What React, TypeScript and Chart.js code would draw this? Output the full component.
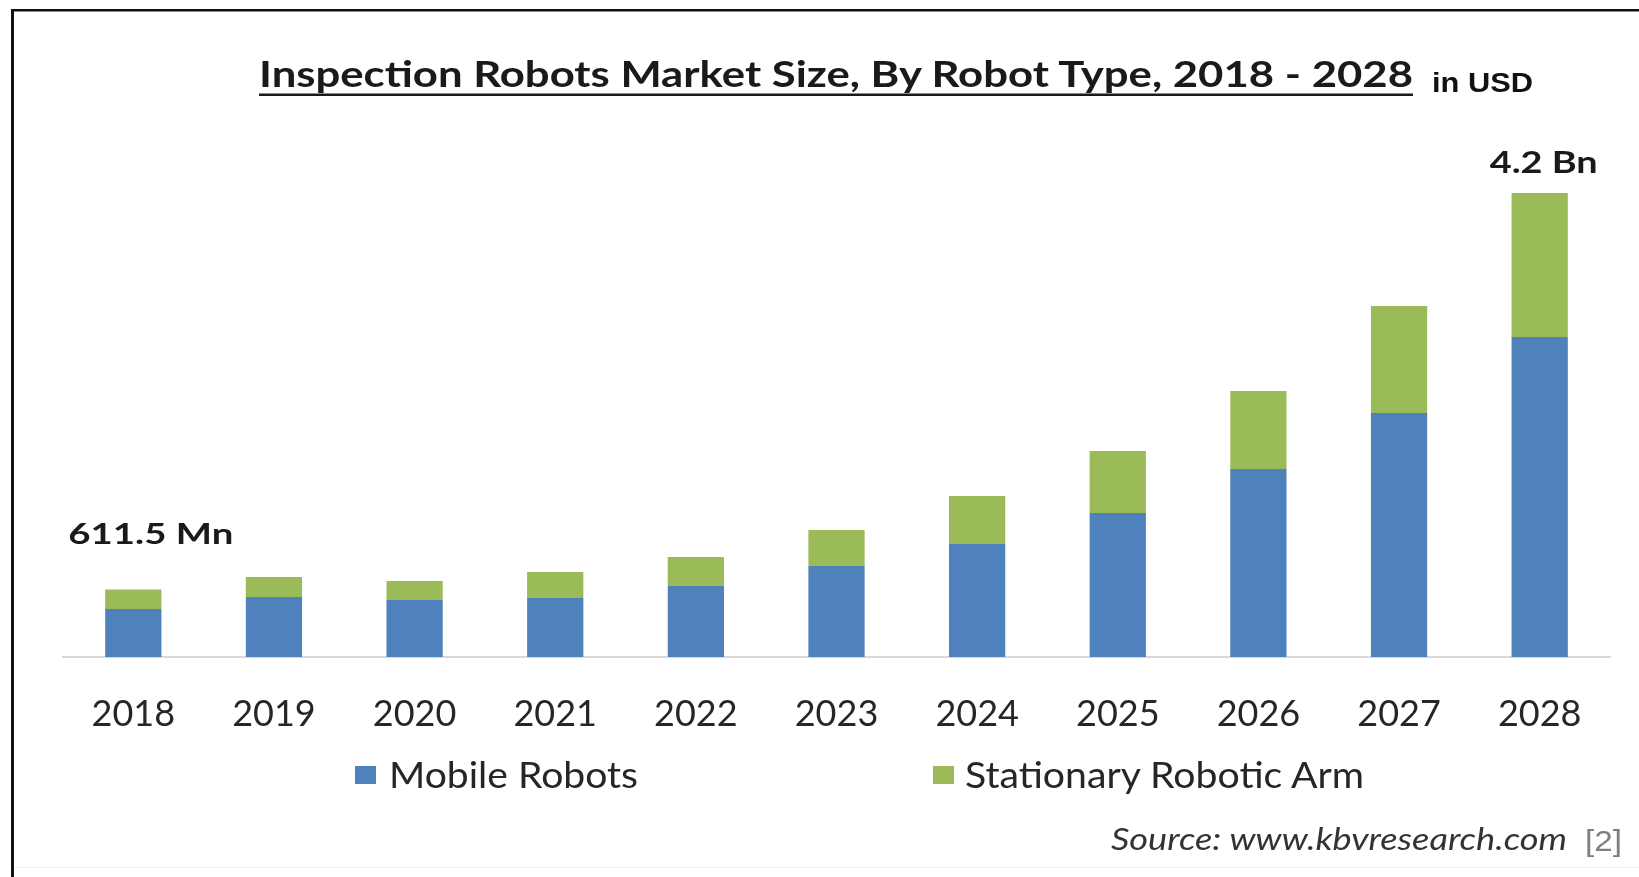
import React, { useEffect, useRef } from "react";
import { Chart, registerables } from "chart.js";

Chart.register(...registerables);

const years = ["2018", "2019", "2020", "2021", "2022", "2023", "2024", "2025", "2026", "2027", "2028"];
const mobileRobots = [435, 543, 516, 534, 643, 824, 1023, 1303, 1701, 2208, 2896];
const stationaryRoboticArm = [176.5, 181, 172, 235, 262, 326, 434, 561, 706, 968, 1304];
const seriesNames = ["Mobile Robots", "Stationary Robotic Arm"];
const seriesColors = ["#4f81bd", "#9bbb59"];
const titleText = "Inspection Robots Market Size, By Robot Type, 2018 - 2028";
const unitText = "in USD";
const firstLabel = "611.5 Mn";
const lastLabel = "4.2 Bn";
const sourceText = "Source: www.kbvresearch.com";
const refText = "[2]";
const yMax = 4525;

const W = 1639;
const H = 877;

function drawFit(ctx: CanvasRenderingContext2D, text: string, cx: number, baseline: number, w: number, font: string) {
  ctx.save();
  ctx.font = font;
  const m = ctx.measureText(text).width;
  ctx.translate(cx, baseline);
  ctx.scale(w / m, 1);
  ctx.textAlign = "center";
  ctx.textBaseline = "alphabetic";
  ctx.fillStyle = "#1a1a1a";
  ctx.fillText(text, 0, 0);
  ctx.restore();
}

const endLabels = {
  id: "endLabels",
  afterDatasetsDraw(chart: any) {
    const ctx = chart.ctx as CanvasRenderingContext2D;
    const xs = chart.scales.x;
    const ys = chart.scales.y;
    const n = years.length - 1;
    const t0 = mobileRobots[0] + stationaryRoboticArm[0];
    const tn = mobileRobots[n] + stationaryRoboticArm[n];
    drawFit(ctx, firstLabel, xs.getPixelForValue(0) + 17.5, ys.getPixelForValue(t0) - 45, 165, "bold 29px Lato");
    drawFit(ctx, lastLabel, xs.getPixelForValue(n) + 4, ys.getPixelForValue(tn) - 20, 108, "bold 30px Lato");
  },
};

export default function App() {
  const canvasRef = useRef<HTMLCanvasElement | null>(null);

  useEffect(() => {
    let chart: Chart | null = null;
    let cancelled = false;
    const make = () => {
      if (cancelled || !canvasRef.current) return;
      chart = new Chart(canvasRef.current, {
        type: "bar",
        data: {
          labels: years,
          datasets: [
            {
              label: seriesNames[0],
              data: mobileRobots,
              backgroundColor: seriesColors[0],
              barPercentage: 0.8,
              categoryPercentage: 0.5,
            },
            {
              label: seriesNames[1],
              data: stationaryRoboticArm,
              backgroundColor: seriesColors[1],
              barPercentage: 0.8,
              categoryPercentage: 0.5,
            },
          ],
        },
        options: {
          responsive: false,
          animation: false,
          devicePixelRatio: 1,
          layout: { padding: { left: 63, right: 29, top: 157, bottom: 100 } },
          plugins: {
            legend: { display: false },
            title: { display: false },
            tooltip: { enabled: false },
          },
          scales: {
            x: {
              stacked: true,
              grid: { display: false, drawTicks: false },
              border: { display: true, color: "#d9d9d9", width: 2 },
              ticks: {
                color: "#262626",
                font: { family: "Lato", size: 36 },
                padding: 36,
                maxRotation: 0,
              },
              afterFit: (s: any) => {
                s.height = 120;
              },
            },
            y: {
              stacked: true,
              display: false,
              min: 0,
              max: yMax,
            },
          },
        },
        plugins: [endLabels],
      });
    };
    if ((document as any).fonts && (document as any).fonts.load) {
      Promise.all([
        (document as any).fonts.load("36px Lato"),
        (document as any).fonts.load("bold 30px Lato"),
      ]).then(make, make);
    } else {
      make();
    }
    return () => {
      cancelled = true;
      if (chart) chart.destroy();
    };
  }, []);

  return (
    <div style={{ position: "absolute", left: 0, top: 0, width: W, height: H, background: "#fff", overflow: "hidden" }}>
      <canvas ref={canvasRef} width={W} height={H} style={{ position: "absolute", left: 0, top: 0, width: W, height: H }} />
      <svg width={W} height={H} style={{ position: "absolute", left: 0, top: 0, pointerEvents: "none" }}>
        <rect x={11} y={9} width={3} height={H - 9} fill="#111" />
        <rect x={11} y={9} width={W - 11} height={2.5} fill="#111" />
        <rect x={14} y={867} width={W - 14} height={1} fill="#eeeeee" />
        <text x={259} y={87} fontFamily="Lato" fontWeight={700} fontSize={37} fill="#1a1a1a" textLength={1154} lengthAdjust="spacingAndGlyphs">
          {titleText}
        </text>
        <rect x={259} y={93.5} width={1154} height={2.5} fill="#1a1a1a" />
        <text x={1432} y={92} fontFamily="Liberation Sans, Arial" fontWeight={700} fontSize={28} fill="#111" textLength={101} lengthAdjust="spacingAndGlyphs">
          {unitText}
        </text>
        <rect x={355} y={766} width={21} height={18} fill={seriesColors[0]} />
        <text x={389} y={788} fontFamily="Lato" fontSize={37} fill="#262626" textLength={249} lengthAdjust="spacingAndGlyphs">
          {seriesNames[0]}
        </text>
        <rect x={933} y={766} width={21} height={18} fill={seriesColors[1]} />
        <text x={965} y={788} fontFamily="Lato" fontSize={37} fill="#262626" textLength={399} lengthAdjust="spacingAndGlyphs">
          {seriesNames[1]}
        </text>
        <text x={1111} y={850} fontFamily="Lato" fontStyle="italic" fontSize={30} fill="#333" textLength={456} lengthAdjust="spacingAndGlyphs">
          {sourceText}
        </text>
        <text x={1585} y={851} fontFamily="Liberation Sans, Arial" fontSize={29} fill="#7f7f7f" textLength={37} lengthAdjust="spacingAndGlyphs">
          {refText}
        </text>
      </svg>
    </div>
  );
}
